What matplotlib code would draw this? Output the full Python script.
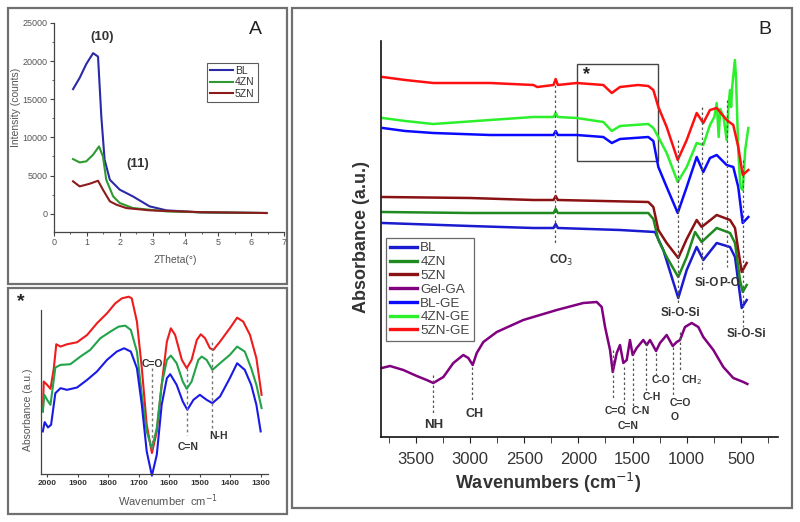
import matplotlib
matplotlib.use("Agg")
import matplotlib.pyplot as plt
from matplotlib.ticker import MultipleLocator, NullLocator
from matplotlib.patches import Rectangle

plt.rcParams['font.family'] = ['Liberation Sans', 'DejaVu Sans']

# ---------------- Panel A data (SAXS) ----------------
a_bl_x = [0.58, 0.78, 0.98, 1.19, 1.34, 1.44, 1.54, 1.70, 2.0, 2.4, 2.91, 3.42, 4.44, 5.5, 6.47]
a_bl_y = [16330, 17800, 19600, 21050, 20600, 12750, 7070, 4450, 3150, 2270, 960, 440, 175, 120, 90]
a_4zn_x = [0.58, 0.78, 0.98, 1.19, 1.37, 1.49, 1.59, 1.8, 2.0, 2.4, 3.42, 4.5, 6.47]
a_4zn_y = [7160, 6720, 6860, 7730, 8820, 7510, 4450, 2270, 1400, 740, 300, 180, 90]
a_5zn_x = [0.58, 0.78, 1.09, 1.34, 1.49, 1.7, 1.9, 2.2, 2.91, 4.5, 6.47]
a_5zn_y = [4240, 3580, 3930, 4320, 3140, 1620, 1180, 740, 440, 200, 90]

# ---------------- Inset data (FTIR zoom) ----------------
in_red_x = [2014, 2011, 2000, 1989, 1978, 1970, 1956, 1935, 1902, 1869, 1837, 1804, 1777, 1755, 1733, 1723,
            1706, 1690, 1674, 1657, 1641, 1625, 1608, 1595, 1581, 1559, 1543, 1527, 1510, 1497, 1483, 1467,
            1456, 1434, 1402, 1378, 1358, 1336, 1315, 1298]
in_red_y = [188, 278, 268, 256, 318, 390, 383, 390, 396, 418, 453, 483, 513, 528, 533, 528,
            458, 318, 148, 63, 128, 268, 398, 438, 418, 343, 318, 343, 403, 420, 408, 378,
            373, 398, 438, 470, 458, 418, 348, 238]
in_grn_x = [2014, 2009, 2000, 1989, 1973, 1956, 1924, 1891, 1859, 1826, 1793, 1766, 1744, 1726, 1706, 1690,
            1674, 1657, 1641, 1625, 1608, 1595, 1576, 1556, 1543, 1527, 1505, 1494, 1478, 1459, 1434, 1402,
            1378, 1353, 1332, 1315, 1298]
in_grn_y = [188, 238, 223, 208, 320, 328, 330, 353, 373, 408, 428, 443, 446, 433, 368, 238,
            128, 76, 138, 268, 343, 356, 333, 278, 256, 278, 343, 353, 343, 313, 333, 358,
            383, 368, 318, 268, 198]
in_blu_x = [2014, 2008, 1997, 1987, 1973, 1956, 1935, 1902, 1869, 1837, 1804, 1772, 1748, 1726, 1706, 1690,
            1674, 1657, 1641, 1625, 1608, 1597, 1576, 1556, 1541, 1521, 1500, 1478, 1459, 1434, 1402, 1378,
            1353, 1332, 1315, 1301]
in_blu_y = [128, 156, 140, 148, 243, 258, 253, 260, 283, 308, 343, 368, 378, 368, 318, 208,
            68, -5, 58, 208, 288, 300, 268, 218, 193, 223, 238, 223, 213, 233, 288, 333,
            313, 268, 208, 128]
in_marks = ['C=O', 'C=N', 'N-H']
in_mark_x = [1657, 1541, 1459]
in_mark_y0 = [318, 318, 398]
in_mark_y1 = [68, 118, 138]
in_lab_x = [1657, 1540, 1440]
in_lab_y = [331, 81, 113]

# ---------------- Panel B data (FTIR) ----------------
b_5zge_x = [3807, 3600, 3340, 2816, 2416, 2380, 2230, 2210, 2190, 2016, 1770, 1692, 1616, 1450, 1355, 1308,
            1262, 1185, 1083, 1000, 908, 847, 785, 723, 631, 570, 524, 483, 431]
b_5zge_y = [360, 357, 354, 354, 352, 350, 352, 358, 352, 354, 352, 344, 350, 352, 351, 347,
            330, 310, 277, 297, 324, 314, 327, 329, 317, 312, 290, 262, 267]
b_4zge_x = [3807, 3600, 3340, 2816, 2416, 2230, 2210, 2190, 2016, 1770, 1692, 1616, 1355, 1308, 1262, 1185,
            1083, 1000, 908, 847, 785, 745, 723, 705, 690, 660, 631, 615, 600, 590, 580, 555, 545, 524,
            505, 483, 460, 431]
b_4zge_y = [319, 316, 313, 317, 320, 320, 324, 320, 319, 315, 306, 311, 313, 309, 300, 284,
            255, 270, 294, 292, 312, 320, 334, 300, 328, 320, 297, 330, 347, 330, 350, 377, 360, 287,
            250, 247, 287, 309]
b_blge_x = [3807, 3600, 3340, 2816, 2416, 2230, 2210, 2190, 2016, 1770, 1692, 1616, 1355, 1308, 1262, 1185,
            1083, 1000, 908, 847, 785, 723, 631, 570, 524, 483, 431]
b_blge_y = [309, 306, 304, 302, 302, 302, 306, 302, 302, 300, 294, 298, 300, 296, 270, 250,
            224, 250, 280, 265, 279, 282, 272, 270, 250, 214, 220]
b_5zn_x = [3807, 3000, 2416, 2230, 2210, 2190, 1355, 1308, 1262, 1185, 1078, 1000, 908, 862, 723, 600, 554,
           524, 492, 446]
b_5zn_y = [240, 239, 237, 237, 241, 237, 235, 230, 207, 194, 179, 198, 217, 210, 222, 217, 209,
           187, 165, 174]
b_4zn_x = [3807, 3000, 2416, 2230, 2210, 2190, 1355, 1308, 1262, 1185, 1078, 1000, 923, 862, 723, 600, 554,
           508, 483, 446]
b_4zn_y = [225, 224, 224, 224, 228, 224, 224, 218, 197, 180, 160, 180, 205, 195, 209, 204, 194,
           157, 145, 152]
b_bl_x = [3807, 3000, 2416, 2230, 2210, 2190, 1616, 1293, 1216, 1078, 1000, 908, 847, 723, 600, 554,
          514, 492, 446]
b_bl_y = [214, 211, 209, 209, 213, 209, 207, 205, 187, 139, 167, 190, 177, 194, 190, 180,
          147, 129, 137]
b_gel_x = [3816, 3740, 3617, 3493, 3401, 3340, 3247, 3155, 3063, 3017, 2976, 2939, 2878, 2754, 2509, 2200,
           1955, 1831, 1785, 1754, 1708, 1683, 1646, 1616, 1585, 1554, 1524, 1499, 1462, 1401, 1369, 1339,
           1283, 1247, 1185, 1129, 1092, 1062, 1016, 954, 893, 847, 754, 662, 570, 477, 440]
b_gel_y = [69, 71, 67, 61, 57, 54, 60, 74, 82, 79, 72, 84, 95, 105, 117, 127,
           134, 135, 130, 110, 87, 65, 84, 92, 74, 77, 97, 82, 89, 97, 92, 97,
           86, 94, 102, 91, 95, 97, 110, 114, 110, 100, 87, 70, 59, 55, 53]

b_series = ['BL', '4ZN', '5ZN', 'Gel-GA', 'BL-GE', '4ZN-GE', '5ZN-GE']

# spectral assignments
b_marks = ['CO$_3$', 'Si-O-Si', 'Si-O', 'P-O', 'Si-O-Si']
b_mark_x = [2216, 1078, 862, 631, 483]
b_mark_y0 = [352, 297, 330, 337, 277]
b_mark_y1 = [194, 134, 167, 170, 110]
b_lab_x = [2163, 1055, 815, 600, 452]
b_lab_y = [177, 124, 154, 154, 103]

g_marks = ['NH', 'CH', 'C=O', 'C=N', 'C-N', 'C-H', 'C-O', 'C=O', 'CH$_2$']
g_mark_x = [3340, 2980, 1683, 1576, 1499, 1376, 1283, 1129, 1060]
g_mark_y0 = [62, 70, 87, 70, 84, 94, 84, 90, 105]
g_mark_y1 = [22, 37, 39, 20, 30, 47, 62, 40, 67]
g_lab_x = [3340, 2960, 1662, 1539, 1425, 1320, 1240, 1055, 955]
g_lab_y = [12, 23, 26, 11, 26, 40, 57, 34, 57]
g_lab_size = [9.5, 9, 7.5, 7.5, 7.5, 7.5, 7.5, 7.5, 7.5]

# ---------------- figure ----------------
W, H = 800, 522
fig = plt.figure(figsize=(8, 5.22), dpi=100)


def fx(px):
    return px / W


def fy(py):
    return 1 - py / H


def ax_rect(x0, y0, x1, y1):
    return [fx(x0), fy(y1), (x1 - x0) / W, (y1 - y0) / H]


# frames
for (x0, y0, x1, y1) in [(8, 8, 287, 284), (8, 288, 287, 514), (292, 8, 792, 508)]:
    fig.patches.append(Rectangle((fx(x0), fy(y1)), (x1 - x0) / W, (y1 - y0) / H,
                                 transform=fig.transFigure, fill=False,
                                 edgecolor='#707070', linewidth=1.6))

gray = '#555555'

# ---------- Panel A ----------
axA = fig.add_axes(ax_rect(54, 23, 284, 232))
axA.plot(a_bl_x, a_bl_y, color='#2a2aa6', lw=1.5, label='BL')
axA.plot(a_4zn_x, a_4zn_y, color='#2f9a2f', lw=1.5, label='4ZN')
axA.plot(a_5zn_x, a_5zn_y, color='#8c1c1c', lw=1.5, label='5ZN')
axA.set_xlim(0, 7)
axA.set_ylim(-2400, 25000)
axA.xaxis.set_major_locator(MultipleLocator(1))
axA.xaxis.set_minor_locator(MultipleLocator(0.5))
axA.yaxis.set_major_locator(MultipleLocator(5000))
axA.yaxis.set_minor_locator(MultipleLocator(2500))
for s in ['top', 'right']:
    axA.spines[s].set_visible(False)
for s in ['left', 'bottom']:
    axA.spines[s].set_color('#444444')
    axA.spines[s].set_linewidth(0.9)
axA.tick_params(which='both', labelsize=6.5, labelcolor=gray, color='#444444', pad=1.5)
axA.tick_params(which='major', length=3)
axA.tick_params(which='minor', length=1.5)
leg = axA.legend(loc='upper left', bbox_to_anchor=(0.665, 0.81), borderaxespad=0,
                 fontsize=7.5, frameon=True, fancybox=False, handlelength=2.2,
                 handletextpad=0.2, labelspacing=0.15, borderpad=0.3)
leg.get_frame().set_edgecolor('#333333')
leg.get_frame().set_linewidth(0.8)
for t in leg.get_texts():
    t.set_color('#333333')
fig.text(fx(102), fy(37), '(10)', fontsize=9.5, fontweight='bold', color='#333333', ha='center', va='center')
fig.text(fx(138), fy(164), '(11)', fontsize=9.5, fontweight='bold', color='#333333', ha='center', va='center')
fig.text(fx(255), fy(29), 'A', fontsize=14, color='#222222', ha='center', va='center')
fig.text(fx(16), fy(107), 'Intensity (counts)', fontsize=7.5, color=gray, rotation=90, ha='center', va='center')
fig.text(fx(175), fy(260), '2Theta(°)', fontsize=7.5, color=gray, ha='center', va='center')

# ---------- Inset ----------
axI = fig.add_axes(ax_rect(41, 310, 268, 474))
axI.plot(in_red_x, in_red_y, color='#ee1c1c', lw=1.5, clip_on=False)
axI.plot(in_grn_x, in_grn_y, color='#22a34a', lw=1.5, clip_on=False)
axI.plot(in_blu_x, in_blu_y, color='#1a1ae6', lw=1.5, clip_on=False)
for lab, x, y0, y1, lx, ly in zip(in_marks, in_mark_x, in_mark_y0, in_mark_y1, in_lab_x, in_lab_y):
    axI.plot([x, x], [y0, y1], ls=(0, (2, 2)), color='#777777', lw=1.0, clip_on=False)
    axI.text(lx, ly, lab, fontsize=7.5, fontweight='bold', color='#333333', ha='center', va='center')
axI.set_xlim(2020, 1277)
axI.set_ylim(0, 493)
axI.xaxis.set_major_locator(MultipleLocator(100))
axI.yaxis.set_major_locator(NullLocator())
for s in ['top', 'right']:
    axI.spines[s].set_visible(False)
for s in ['left', 'bottom']:
    axI.spines[s].set_color('#444444')
    axI.spines[s].set_linewidth(0.9)
axI.tick_params(axis='x', labelsize=6, labelcolor='#333333', color='#444444', length=2.5, pad=1.5)
for t in axI.get_xticklabels():
    t.set_fontweight('bold')
fig.text(fx(21), fy(302), '*', fontsize=14, fontweight='bold', color='#222222', ha='center', va='center')
fig.text(fx(28), fy(410), 'Absorbance (a.u.)', fontsize=7.5, color=gray, rotation=90, ha='center', va='center')
fig.text(fx(168), fy(501), 'Wavenumber  cm$^{-1}$', fontsize=8, color=gray, ha='center', va='center')

# ---------- Panel B ----------
axB = fig.add_axes(ax_rect(381, 41, 778, 437))
colors = {'BL': '#1a1ad0', '4ZN': '#1f8a1f', '5ZN': '#8b1212', 'Gel-GA': '#800080',
          'BL-GE': '#0a0aff', '4ZN-GE': '#2cf02c', '5ZN-GE': '#ff1010'}
data = {'BL': (b_bl_x, b_bl_y), '4ZN': (b_4zn_x, b_4zn_y), '5ZN': (b_5zn_x, b_5zn_y),
        'Gel-GA': (b_gel_x, b_gel_y), 'BL-GE': (b_blge_x, b_blge_y),
        '4ZN-GE': (b_4zge_x, b_4zge_y), '5ZN-GE': (b_5zge_x, b_5zge_y)}
for name in b_series:
    xs, ys = data[name]
    axB.plot(xs, ys, color=colors[name], lw=1.8, label=name, clip_on=False)

for lab, x, y0, y1, lx, ly in zip(b_marks, b_mark_x, b_mark_y0, b_mark_y1, b_lab_x, b_lab_y):
    axB.plot([x, x], [y0, y1], ls=(0, (2, 2)), color='#555555', lw=0.9)
    axB.text(lx, ly, lab, fontsize=8.5, fontweight='bold', color='#333333', ha='center', va='center')
for lab, x, y0, y1, lx, ly, sz in zip(g_marks, g_mark_x, g_mark_y0, g_mark_y1, g_lab_x, g_lab_y, g_lab_size):
    axB.plot([x, x], [y0, y1], ls=(0, (2, 2)), color='#555555', lw=0.9)
    axB.text(lx, ly, lab, fontsize=sz, fontweight='bold', color='#333333', ha='center', va='center')
axB.text(1108, 20, 'O', fontsize=7.5, fontweight='bold', color='#333333', ha='center', va='center')

axB.add_patch(Rectangle((1268, 276), 2010 - 1268, 373 - 276, fill=False, edgecolor='#444444', lw=1.0))
axB.text(1923, 362, '*', fontsize=13, fontweight='bold', color='#222222', ha='center', va='center')

axB.set_xlim(3823, 157)
axB.set_ylim(0, 396)
axB.xaxis.set_major_locator(MultipleLocator(500))
axB.xaxis.set_minor_locator(MultipleLocator(250))
axB.yaxis.set_major_locator(NullLocator())
for s in ['top', 'right']:
    axB.spines[s].set_visible(False)
for s in ['left', 'bottom']:
    axB.spines[s].set_color('#111111')
    axB.spines[s].set_linewidth(1.2)
axB.tick_params(axis='x', which='both', labelsize=12, labelcolor='#333333', color='#222222', pad=7)
axB.tick_params(axis='x', which='major', length=4)
axB.tick_params(axis='x', which='minor', length=4)
legB = axB.legend(loc='upper left', bbox_to_anchor=(0.0126, 0.5025), borderaxespad=0,
                  fontsize=9.7, frameon=True, fancybox=False, handlelength=2.0,
                  handletextpad=0.25, labelspacing=0.1, borderpad=0.3)
legB.get_frame().set_edgecolor('#444444')
legB.get_frame().set_linewidth(0.9)
for t in legB.get_texts():
    t.set_color('#444444')
for l in legB.get_lines():
    l.set_linewidth(2.4)

fig.text(fx(362), fy(237), 'Absorbance (a.u.)', fontsize=13, fontweight='bold', color='#333333',
         rotation=90, ha='center', va='center')
fig.text(fx(548), fy(483), 'Wavenumbers (cm$^{-1}$)', fontsize=13, fontweight='bold', color='#333333',
         ha='center', va='center')
fig.text(fx(765), fy(29), 'B', fontsize=14, color='#222222', ha='center', va='center')

fig.savefig('out.png', dpi=100)
